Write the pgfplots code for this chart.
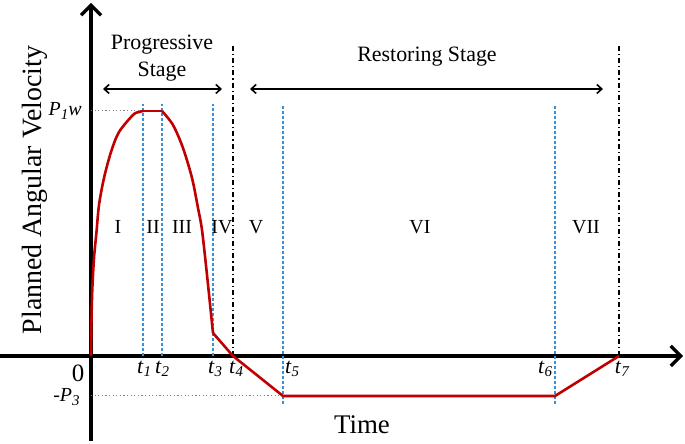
\documentclass[border=0pt]{standalone}
\usepackage{fontspec}
\setmainfont{Liberation Serif}
\usepackage{pgfplots}
\pgfplotsset{compat=1.18}
\usetikzlibrary{arrows.meta}
\definecolor{curveRed}{HTML}{C00000}
\definecolor{guideBlue}{HTML}{3A8FD6}
% italic letter with small italic subscript
\newcommand{\sub}[2]{\textit{#1}\raisebox{-0.35ex}{\fontsize{7.5}{8}\selectfont\textit{#2}}}
\tikzset{
  guide/.style={guideBlue, line width=0.55bp, dash pattern=on 1.5bp off 1bp},
  stage/.style={black, line width=0.9bp, dash pattern=on 2.5bp off 1.5bp on 0.6bp off 1.5bp},
  ref/.style={gray, line width=0.5bp, dash pattern=on 0.6bp off 1.2bp},
  span/.style={line width=0.8bp, {Straight Barb[length=2.5bp,width=4.5bp]}-{Straight Barb[length=2.5bp,width=4.5bp]}},
  lbl/.style={font=\fontsize{10}{12}\selectfont, inner sep=0pt},
  tl/.style={font=\fontsize{11}{12}\selectfont, inner sep=0pt},
}

\begin{document}
\begin{tikzpicture}
\begin{axis}[
  x=0.5bp, y=0.5bp,
  xmin=-91, xmax=592, ymin=-85, ymax=353,
  axis lines=middle,
  axis line style={line width=1.6bp, -{Straight Barb[length=5bp,width=10bp,line width=1.6bp]}},
  xtick=\empty, ytick=\empty,
  clip=false,
]
\coordinate (bl) at (axis cs:-91,-88);
\coordinate (tr) at (axis cs:594,356);

% reference lines
\addplot[ref] coordinates {(0,245) (52,245)};
\addplot[ref] coordinates {(0,-40) (192,-40)};
\addplot[guide] coordinates {(52,0) (52,252)};
\addplot[guide] coordinates {(71,0) (71,252)};
\addplot[guide] coordinates {(122,0) (122,252)};
\addplot[guide] coordinates {(192,-48) (192,252)};
\addplot[guide] coordinates {(464,-48) (464,252)};
\addplot[stage] coordinates {(142,0) (142,310)};
\addplot[stage] coordinates {(528,0) (528,310)};

% planned angular velocity
\addplot[curveRed, line width=1.3bp, smooth, tension=0.5] coordinates {
  (0,0) (0.4,31) (1.2,64) (3,98) (5.5,124) (8,151) (13,178) (20,204)
  (28,224) (42,241) (48,244) (52,245)};
\addplot[curveRed, line width=1.3bp] coordinates {(52,245) (71,245)};
\addplot[curveRed, line width=1.3bp, smooth, tension=0.5] coordinates {
  (71,245) (82,231) (92,208) (101,178) (107,148) (111,126) (116,81) (122,23)};
\addplot[curveRed, line width=1.3bp] coordinates {
  (122,23) (142,0) (192,-40) (464,-40) (528,0)};

% stage spans
\draw[span] (axis cs:12,267) -- (axis cs:131,267);
\draw[span] (axis cs:159,267) -- (axis cs:512,267);
\node[font=\fontsize{11}{13.5}\selectfont, align=center] at (axis cs:71,298) {Progressive\\Stage};
\node[font=\fontsize{11}{13.5}\selectfont] at (axis cs:336,299) {Restoring Stage};

% phases
\node[lbl] at (axis cs:27,129) {I};
\node[lbl] at (axis cs:62,129) {II};
\node[lbl] at (axis cs:91,129) {III};
\node[lbl] at (axis cs:131,129) {IV};
\node[lbl] at (axis cs:165,129) {V};
\node[lbl] at (axis cs:329,129) {VI};
\node[lbl] at (axis cs:495,129) {VII};

% time marks
\node[tl] at (axis cs:53,-13) {\sub{t}{1}};
\node[tl] at (axis cs:71,-13) {\sub{t}{2}};
\node[tl] at (axis cs:124,-13) {\sub{t}{3}};
\node[tl] at (axis cs:145,-13) {\sub{t}{4}};
\node[tl] at (axis cs:201,-13) {\sub{t}{5}};
\node[tl] at (axis cs:454,-13) {\sub{t}{6}};
\node[tl] at (axis cs:531,-13) {\sub{t}{7}};
\node[font=\fontsize{12.5}{14}\selectfont, inner sep=0pt] at (axis cs:-13,-17) {0};
\node[lbl, anchor=east] at (axis cs:-9,245) {\sub{P}{1}\textit{w}};
\node[lbl, anchor=east] at (axis cs:-11,-41) {-\sub{P}{3}};

% axis titles
\node[font=\fontsize{13.5}{16}\selectfont] at (axis cs:271,-69) {Time};
\node[font=\fontsize{14}{16}\selectfont, rotate=90] at (axis cs:-56,166) {Planned Angular Velocity};
\end{axis}
\pgfresetboundingbox
\path[use as bounding box] (bl) rectangle (tr);
\end{tikzpicture}
\end{document}
